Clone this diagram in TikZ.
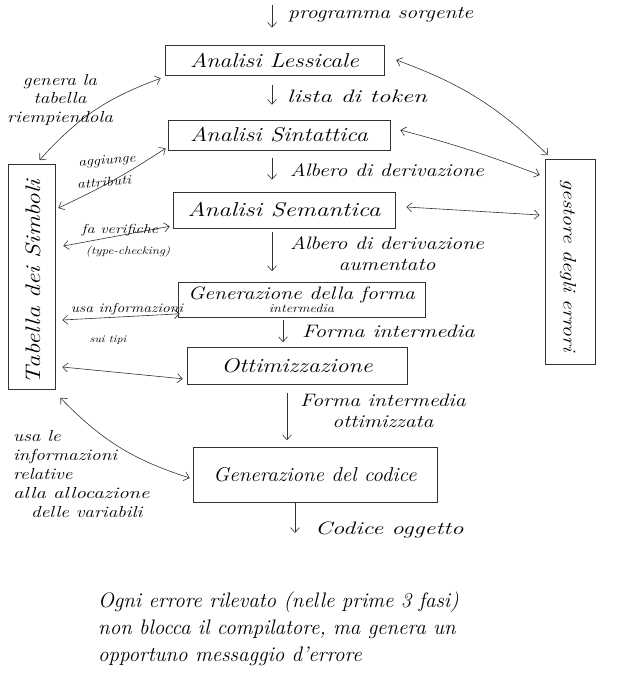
\documentclass[tikz,border=0pt]{standalone}
\usepackage{graphicx}
\usetikzlibrary{arrows.meta}
\newcommand{\hw}[2][1.2]{\scalebox{#1}[1]{#2}}
\begin{document}
\begin{tikzpicture}[x=1pt,y=-1pt,
  ink/.style={draw=black!80, line width=0.6pt},
  arr/.style={ink, -{Straight Barb[length=5pt,width=9pt]}},
  dbl/.style={ink, {Straight Barb[length=5pt,width=9pt]}-{Straight Barb[length=5pt,width=9pt]}},
  phase/.style={ink, inner sep=0pt, font=\fontsize{20}{22}\selectfont\itshape},
  lbl/.style={inner sep=0pt, font=\fontsize{18}{20}\selectfont\itshape, anchor=west},
  side/.style={inner sep=0pt, font=\fontsize{16}{18}\selectfont\itshape, align=center},
  note/.style={inner sep=0pt, font=\fontsize{21}{27}\selectfont\itshape, align=left, anchor=north west}
]
\useasboundingbox (0,0) rectangle (617,682);

% phases
\node[phase, minimum width=219pt, minimum height=30pt] (lex) at (274.5,60) {\hw{Analisi Lessicale}};
\node[phase, minimum width=222pt, minimum height=30pt] (syn) at (279,135) {\hw{Analisi Sintattica}};
\node[phase, minimum width=222pt, minimum height=36pt] (sem) at (284,210) {\hw[1.25]{Analisi Semantica}};
\node[phase, minimum width=247pt, minimum height=35pt, align=center,
      font=\fontsize{18}{14}\selectfont\itshape] (gen) at (301.5,300)
      {\hw{Generazione della forma}\\[-1pt]{\fontsize{12}{12}\selectfont\hw{intermedia}}};
\node[phase, minimum width=220pt, minimum height=37pt] (opt) at (297,366) {\hw{Ottimizzazione}};
\node[phase, minimum width=244pt, minimum height=55pt] (cod) at (315,475) {\hw[1.05]{Generazione del codice}};

% side boxes
\node[ink, inner sep=0pt, minimum width=47pt, minimum height=225pt] (tab) at (31.5,277) {};
\node[inner sep=0pt, rotate=90, font=\fontsize{21}{23}\selectfont\itshape] (tabtxt) at (33,282) {\hw{Tabella dei Simboli}};
\node[ink, inner sep=0pt, minimum width=50pt, minimum height=205pt] (ges) at (570,262) {};
\node[inner sep=0pt, rotate=-90, font=\fontsize{18}{20}\selectfont\itshape] (gestxt) at (568,266) {\hw{gestore degli errori}};

% main flow
\coordinate (src) at (272,5);
\coordinate (out) at (295,533);
\draw[arr] (src) -- ([xshift=-2.5pt,yshift=17pt]lex.north);
\node[lbl] (lsrc) at (288,15) {\hw{programma sorgente}};

\draw[arr] ([xshift=-2.5pt,yshift=-10pt]lex.south) -- ([xshift=-7pt,yshift=15pt]syn.north);
\node[lbl] (l1) at (287,96) {\hw[1.4]{lista di token}};

\draw[arr] ([xshift=-7pt,yshift=-8pt]syn.south) -- ([xshift=-12pt,yshift=12pt]sem.north);
\node[lbl] (l2) at (290,170) {\hw{Albero di derivazione}};

\draw[arr] ([xshift=-12pt,yshift=-4pt]sem.south) -- ([xshift=-29.5pt,yshift=11pt]gen.north);
\node[lbl, align=center, anchor=north west] (l3) at (290,236) {\hw{Albero di derivazione}\\[1pt]\hw{aumentato}};

\draw[arr] ([xshift=-18.5pt,yshift=-2pt]gen.south) -- ([xshift=-14pt,yshift=5pt]opt.north);
\node[lbl] (l4) at (302,331) {\hw[1.25]{Forma intermedia}};

\draw[arr] ([xshift=-10pt,yshift=-8pt]opt.south) -- ([xshift=-28pt,yshift=7pt]cod.north);
\node[lbl, align=center, anchor=north west] (l5) at (300,394) {\hw{Forma intermedia}\\[1pt]\hw{ottimizzata}};

\draw[arr] ([xshift=-20pt]cod.south) -- (out);
\node[lbl] (l6) at (315,530) {\hw[1.35]{Codice oggetto}};

% symbol table connectors
\draw[dbl] ([xshift=-4pt,yshift=-3pt]lex.south west) to[bend right=14] ([xshift=8pt,yshift=4pt]tab.north);
\node[side] (c1) at (60,100) {\hw{genera la}\\\hw{tabella}\\\hw{riempiendola}};

\draw[dbl] ([xshift=-2pt,yshift=2pt]syn.south west) to[bend left=4] ([xshift=3pt,yshift=69pt]tab.east);
\node[side, rotate=5, font=\fontsize{13}{14}\selectfont\itshape] (c2a) at (107,161) {\hw{aggiunge}};
\node[side, rotate=5, font=\fontsize{13}{14}\selectfont\itshape] (c2b) at (104,182) {\hw{attributi}};

\draw[dbl] ([xshift=-3pt,yshift=2pt]sem.south west) -- ([xshift=8pt,yshift=31pt]tab.east);
\node[side, font=\fontsize{13}{14}\selectfont\itshape] (c3a) at (120,230) {\hw[1.25]{fa verifiche}};
\node[side, font=\fontsize{11}{13}\selectfont\itshape] (c3b) at (128,252) {\hw{(type-checking)}};

\draw[dbl] ([xshift=2pt,yshift=4pt]gen.south west) -- ([xshift=7pt,yshift=-43pt]tab.east);
\node[side, font=\fontsize{13}{14}\selectfont\itshape] (c4a) at (127,309) {\hw{usa informazioni}};
\node[side, font=\fontsize{10}{12}\selectfont\itshape] (c4b) at (108,340) {\hw{sui tipi}};

\draw[dbl] ([xshift=-4pt,yshift=6pt]opt.south west) -- ([xshift=7pt,yshift=-90pt]tab.east);

\draw[dbl] ([xshift=-3pt,yshift=-3pt]cod.west) to[bend left=14] ([xshift=5pt,yshift=-8pt]tab.south east);
\node[side, align=left, anchor=north west, font=\fontsize{16}{19}\selectfont\itshape] (c6) at (13,430)
  {\hw{usa le}\\\hw{informazioni}\\\hw{relative}\\\hw[1.3]{alla allocazione}\\\hspace*{18pt}\hw{delle variabili}};

% error manager connectors
\draw[dbl] ([xshift=12pt]lex.east) to[bend left=12] ([xshift=-22pt,yshift=4pt]ges.north);
\draw[dbl] ([xshift=10pt,yshift=5pt]syn.east) to[bend left=3] ([xshift=-5pt,yshift=87pt]ges.west);
\draw[dbl] ([xshift=11pt,yshift=3pt]sem.east) -- ([xshift=-5pt,yshift=47pt]ges.west);

% note
\node[note] (nota) at (98,592) {Ogni errore rilevato (nelle prime 3 fasi)\\non blocca il compilatore, ma genera un\\opportuno messaggio d'errore};
\end{tikzpicture}
\end{document}
